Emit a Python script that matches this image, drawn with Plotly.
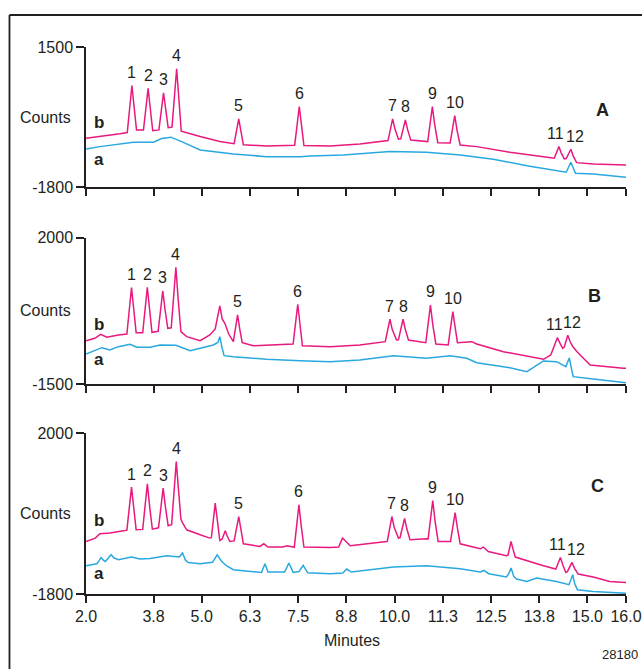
import numpy as np
import plotly.graph_objects as go

# ---------------- data (minutes, counts) ----------------
# Panel A
A_b_t = [2.00, 2.36, 2.88, 3.07, 3.13, 3.19, 3.25, 3.31, 3.49, 3.55, 3.61, 3.67, 3.73, 3.89, 3.95, 4.01,
         4.07, 4.13, 4.23, 4.29, 4.35, 4.41, 4.47, 4.96, 5.47, 5.84, 5.90, 5.96, 6.02, 6.08, 6.68, 7.41,
         7.47, 7.53, 7.59, 7.65, 8.33, 9.10, 9.83, 9.89, 9.95, 10.01, 10.10, 10.16, 10.22, 10.28, 10.34,
         10.42, 10.86, 10.92, 10.98, 11.04, 11.12, 11.44, 11.50, 11.56, 11.62, 11.70, 12.13, 12.99,
         13.86, 14.14, 14.20, 14.26, 14.32, 14.40, 14.45, 14.51, 14.57, 14.63, 14.72, 15.15, 16.00]
A_b_v = [-645, -607, -543, -513, 40, 595, 70, -455, -455, 35, 525, 25, -470, -450, -10, 423,
         15, -395, -385, 300, 989, 260, -480, -607, -725, -775, -480, -190, -495, -800, -826, -810,
         -355, 100, -360, -819, -826, -779, -700, -445, -190, -430, -668, -660, -440, -213, -450,
         -690, -725, -310, 100, -325, -750, -760, -435, -112, -460, -805, -843, -975,
         -1079, -1116, -980, -843, -990, -1133, -1125, -1015, -904, -1060, -1220, -1251, -1274]
A_a_t = [2.00, 2.36, 3.23, 3.75, 3.96, 4.20, 4.48, 4.96, 5.82, 6.68, 7.55, 7.81, 8.67, 9.88, 10.83,
         11.70, 12.56, 13.43, 14.45, 14.51, 14.57, 14.63, 14.69, 15.15, 16.00]
A_a_v = [-897, -843, -739, -739, -654, -621, -725, -921, -1015, -1079, -1079, -1062, -1039, -960, -975,
         -1039, -1140, -1291, -1446, -1330, -1211, -1340, -1470, -1486, -1564]
A_peak_t = [3.19, 3.61, 4.01, 4.35, 5.96, 7.53, 9.95, 10.28, 10.98, 11.56, 14.26, 14.57]

# Panel B
B_b_t = [2.00, 2.23, 2.38, 2.54, 2.84, 3.06, 3.12, 3.18, 3.24, 3.30, 3.47, 3.53, 3.59, 3.65, 3.71,
         3.87, 3.93, 3.99, 4.05, 4.12, 4.21, 4.27, 4.33, 4.39, 4.46, 4.61, 4.96, 5.21, 5.35, 5.41, 5.47,
         5.53, 5.60, 5.70, 5.82, 5.875, 5.93, 5.985, 6.05, 6.34, 7.37, 7.43, 7.49, 7.55, 7.61, 8.33,
         9.10, 9.76, 9.82, 9.88, 9.94, 10.05, 10.10, 10.16, 10.22, 10.28, 10.36, 10.81, 10.87, 10.93,
         10.99, 11.07, 11.39, 11.45, 11.51, 11.57, 11.63, 12.00, 12.13, 12.82, 13.51, 13.86, 14.05,
         14.12, 14.22, 14.30, 14.36, 14.40, 14.44, 14.49, 14.55, 14.62, 14.73, 15.07, 15.93, 16.00]
B_b_v = [-459, -402, -306, -378, -322, -299, 255, 806, 270, -268, -270, 275, 816, 280, -258,
         -235, 245, 728, 280, -163, -150, 570, 1293, 525, -244, -363, -459, -322, -180, 100, 370,
         60, -43, -300, -482, -165, 155, -175, -506, -578, -537, -65, 410, -85, -578, -602,
         -561, -482, -215, 52, -195, -442, -440, -195, 52, -195, -442, -506, -55, 393,
         -70, -537, -561, -165, 234, -135, -506, -482, -537, -721, -840, -903, -800,
         -620, -387, -540, -640, -610, -480, -330, -480, -600, -721, -1039, -1118, -1120]
B_a_t = [2.00, 2.41, 2.62, 2.84, 3.14, 3.32, 3.66, 3.92, 4.33, 4.70, 4.96, 5.30, 5.42, 5.47, 5.52,
         5.58, 5.82, 6.68, 7.55, 8.33, 9.10, 9.97, 10.83, 11.44, 11.87, 12.13, 12.99, 13.43, 13.86,
         14.20, 14.44, 14.49, 14.53, 14.58, 14.63, 15.15, 15.93, 16.00]
B_a_v = [-776, -626, -681, -602, -545, -616, -616, -561, -568, -697, -640, -561, -500, -363, -600,
         -817, -840, -903, -936, -960, -919, -817, -879, -817, -879, -984, -1103, -1199, -943,
         -960, -1079, -980, -872, -1100, -1318, -1373, -1461, -1465]
B_peak_t = [3.18, 3.59, 3.99, 4.33, 5.93, 7.49, 9.88, 10.22, 10.93, 11.51, 14.22, 14.49]

# Panel C
C_b_t = [2.00, 2.24, 2.36, 2.62, 3.01, 3.06, 3.12, 3.18, 3.24, 3.30, 3.47, 3.53, 3.59, 3.65, 3.72,
         3.88, 3.94, 4.00, 4.06, 4.13, 4.22, 4.28, 4.34, 4.40, 4.46, 4.50, 4.61, 4.96, 5.21, 5.25,
         5.30, 5.35, 5.41, 5.47, 5.53, 5.57, 5.61, 5.66, 5.73, 5.84, 5.90, 5.96, 6.02, 6.08, 6.51,
         6.61, 6.72, 7.10, 7.22, 7.37, 7.40, 7.46, 7.52, 7.58, 7.65, 8.33, 8.55, 8.65, 8.85, 9.80,
         9.81, 9.87, 9.93, 9.99, 10.10, 10.14, 10.20, 10.26, 10.32, 10.40, 10.83, 10.87, 10.93, 10.99,
         11.05, 11.13, 11.45, 11.51, 11.57, 11.63, 11.70, 12.22, 12.30, 12.43, 12.90, 12.94, 12.98,
         13.02, 13.07, 13.13, 13.86, 14.18, 14.24, 14.30, 14.36, 14.44, 14.48, 14.54, 14.60, 14.67,
         14.76, 15.15, 15.58, 16.00]
C_b_v = [-558, -478, -377, -360, -299, -290, 220, 726, 225, -282, -272, 265, 803, 270, -266,
         -235, 235, 702, 255, -188, -160, 585, 1330, 650, -30, -110, -282, -400, -478, -470,
         -60, 348, -95, -535, -500, -400, -306, -430, -558, -545, -255, 32, -290, -613, -676,
         -613, -690, -690, -660, -700, -695, -195, 308, -190, -690, -700, -690, -478, -660, -558,
         -558, -265, 32, -225, -478, -470, -240, -14, -265, -518, -495, -500, -45, 409,
         -75, -558, -558, -215, 126, -245, -613, -731, -690, -794, -896, -880, -720,
         -558, -740, -926, -1132, -1210, -1075, -936, -1110, -1290, -1270, -1160, -1054, -1200,
         -1328, -1398, -1502, -1526]
C_a_t = [2.00, 2.28, 2.34, 2.39, 2.45, 2.50, 2.58, 2.65, 2.73, 2.84, 3.18, 3.40, 3.66, 4.09, 4.42,
         4.50, 4.58, 4.65, 4.96, 5.28, 5.40, 5.52, 5.64, 5.82, 6.55, 6.64, 6.72, 7.15, 7.26, 7.37,
         7.52, 7.63, 7.75, 8.33, 8.66, 8.76, 8.88, 9.97, 10.83, 11.70, 12.22, 12.32, 12.44, 12.90,
         12.96, 13.02, 13.09, 13.16, 13.43, 13.68, 14.20, 14.52, 14.57, 14.62, 14.67, 14.74, 15.15,
         15.85, 16.00]
C_a_v = [-1132, -1085, -1010, -936, -1000, -1030, -950, -872, -950, -990, -926, -974, -960, -896, -926,
         -832, -1000, -1054, -1085, -1050, -872, -1030, -1132, -1226, -1290, -1085, -1280, -1280, -1068,
         -1290, -1270, -1125, -1300, -1320, -1304, -1210, -1280, -1162, -1132, -1203, -1280, -1243,
         -1320, -1398, -1320, -1186, -1380, -1446, -1502, -1422, -1502, -1580, -1470, -1344, -1560,
         -1698, -1738, -1776, -1780]
C_peak_t = [3.18, 3.59, 4.00, 4.34, 5.96, 7.52, 9.93, 10.26, 10.99, 11.57, 14.30, 14.60]

peak_labels = ["1", "2", "3", "4", "5", "6", "7", "8", "9", "10", "11", "12"]
panel_names = ["A", "B", "C"]
y_ranges = [[-1800, 1500], [-1500, 2000], [-1800, 2000]]

x_tickvals = [2.0, 3.75, 5.0, 6.25, 7.5, 8.75, 10.0, 11.25, 12.5, 13.75, 15.0, 16.0]
x_ticktext = ["2.0", "3.8", "5.0", "6.3", "7.5", "8.8", "10.0", "11.3", "12.5", "13.8", "15.0", "16.0"]

# ---------------- styling ----------------
MAGENTA = "#E8197F"
BLUE = "#29A8E0"
INK = "#231F20"
FONT = "Liberation Sans, Arial, sans-serif"
FS = 16

domains = [[0.7435, 1.0], [0.3834, 0.6514], [0.0, 0.2938]]
letter_pos = [(0.957, 0.552), (0.941, 0.604), (0.947, 0.675)]
ba_pos = [(0.461, 0.20), (0.409, 0.166), (0.457, 0.126)]
label_xshift = {"11": -3, "12": 4}

panels = [
    (A_b_t, A_b_v, A_a_t, A_a_v, A_peak_t),
    (B_b_t, B_b_v, B_a_t, B_a_v, B_peak_t),
    (C_b_t, C_b_v, C_a_t, C_a_v, C_peak_t),
]

fig = go.Figure()
annotations = []
layout = {}


def note(**kw):
    kw.setdefault("xanchor", "center")
    kw.setdefault("yanchor", "middle")
    kw.setdefault("showarrow", False)
    kw.setdefault("font", dict(family=FONT, size=FS, color=INK))
    annotations.append(kw)


for i, (bt, bv, at, av, pk) in enumerate(panels):
    n = "" if i == 0 else str(i + 1)
    xa, ya = "x" + n, "y" + n
    fig.add_trace(go.Scatter(x=at, y=av, mode="lines", line=dict(color=BLUE, width=1.5),
                             xaxis=xa, yaxis=ya, showlegend=False, hoverinfo="skip"))
    fig.add_trace(go.Scatter(x=bt, y=bv, mode="lines", line=dict(color=MAGENTA, width=1.5),
                             xaxis=xa, yaxis=ya, showlegend=False, hoverinfo="skip"))

    last = i == 2
    layout["xaxis" + n] = dict(
        range=[2, 16], anchor=ya, domain=[0, 1], showline=True, linecolor=INK, linewidth=1.5,
        ticks="outside", ticklen=7, tickwidth=1.5, tickcolor=INK, automargin=False,
        tickvals=x_tickvals, ticktext=x_ticktext, showticklabels=last,
        showgrid=False, zeroline=False, tickfont=dict(family=FONT, size=FS, color=INK),
    )
    layout["yaxis" + n] = dict(
        range=y_ranges[i], domain=domains[i], anchor=xa, showline=True, linecolor=INK, linewidth=1.5,
        ticks="outside", ticklen=8, tickwidth=1.5, tickcolor=INK, automargin=False,
        tickvals=y_ranges[i], ticktext=[str(v) for v in y_ranges[i]],
        showgrid=False, zeroline=False, tickfont=dict(family=FONT, size=FS, color=INK),
    )

    # peak numbers
    apex = np.interp(pk, bt, bv)
    for lab, t, v in zip(peak_labels, pk, apex):
        note(x=t, y=v, xref=xa, yref=ya, text=lab, yshift=13, xshift=label_xshift.get(lab, 0))
    # Counts
    note(x=0, y=0.5, xref=xa + " domain", yref=ya + " domain", text="Counts",
         xanchor="right", xshift=-13)
    # b / a
    note(x=0.024, y=ba_pos[i][0], xref=xa + " domain", yref=ya + " domain", text="<b>b</b>",
         font=dict(family=FONT, size=FS + 1, color=INK))
    note(x=0.024, y=ba_pos[i][1], xref=xa + " domain", yref=ya + " domain", text="<b>a</b>",
         font=dict(family=FONT, size=FS + 1, color=INK))
    # panel letter
    note(x=letter_pos[i][0], y=letter_pos[i][1], xref=xa + " domain", yref=ya + " domain",
         text="<b>" + panel_names[i] + "</b>", font=dict(family=FONT, size=FS + 2, color=INK))

note(x=0.492, y=-0.0854, xref="paper", yref="paper", text="Minutes")
note(x=0.989, y=-0.1115, xref="paper", yref="paper", text="28180",
     font=dict(family=FONT, size=13, color=INK))

shapes = [
    dict(type="line", xref="paper", yref="paper", x0=-0.1417, x1=-0.1417, y0=-0.3, y1=1.0585,
         line=dict(color=INK, width=1.8)),
    dict(type="line", xref="paper", yref="paper", x0=-0.1417, x1=1.3, y0=1.0585, y1=1.0585,
         line=dict(color=INK, width=1.8)),
]

fig.update_layout(
    width=642, height=669,
    margin=dict(l=86, r=16, t=47, b=75, autoexpand=False),
    paper_bgcolor="white", plot_bgcolor="white",
    annotations=annotations, shapes=shapes, showlegend=False,
    font=dict(family=FONT, color=INK),
    **layout,
)

fig.write_html("out.html")
